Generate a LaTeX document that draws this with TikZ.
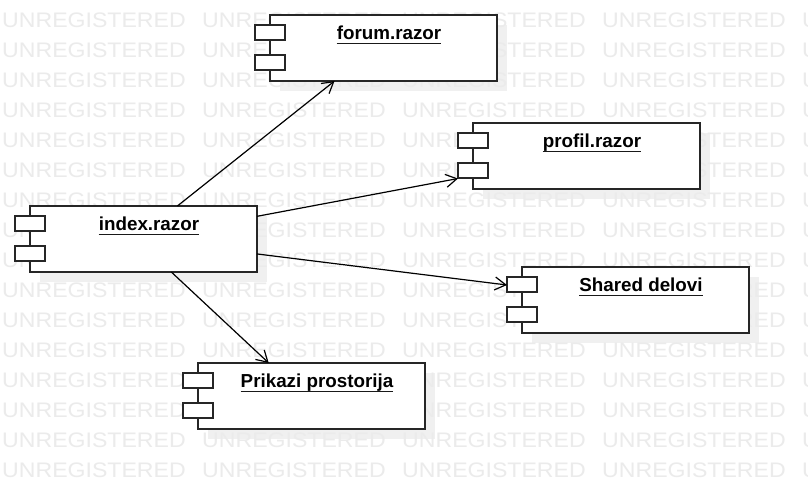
\documentclass[tikz,border=0pt]{standalone}
\usepackage{fontspec}
\setmainfont{Liberation Sans}
\usetikzlibrary{arrows.meta}

\begin{document}
\begin{tikzpicture}[x=1pt,y=1pt,
	comp/.style={inner sep=0,outer sep=0,minimum width=242pt,minimum height=66pt},
	boxline/.style={draw=black!85,line width=1.3pt,fill=white},
	shade/.style={fill=black!6},
	wmark/.style={text=black!8,inner sep=0,anchor=base west,xscale=1.1,font=\fontsize{21}{25}\selectfont},
	lbl/.style={inner sep=0,anchor=base,font=\bfseries\fontsize{18.8}{22}\selectfont},
	uline/.style={draw=black!90,line width=1.4pt},
	dep/.style={draw=black,line width=1.2pt,-{Straight Barb[length=11pt,width=13pt,line width=1.2pt]}}]
	\useasboundingbox (0,0) rectangle (808,489);
	\fill[white] (0,0) rectangle (808,489);
	\node[comp] (forum) at (376,441) {};
	\node[comp] (profil) at (579,333) {};
	\node[comp] (index) at (136,250) {};
	\node[comp] (shared) at (628,189) {};
	\node[comp] (prikazi) at (304,93) {};
	\foreach \n in {forum,profil,index,shared,prikazi}
		\fill[shade] ([xshift=25pt,yshift=-10pt]\n.north west) rectangle ([xshift=10pt,yshift=-10pt]\n.south east);
	\foreach \r in {0,...,15}
		\foreach \c in {0,...,4}
			\node[wmark] (wm-\r-\c) at (2+200*\c,461-30*\r) {UNREGISTERED};
	\foreach \n/\t in {forum/forum.razor,profil/profil.razor,index/index.razor,shared/Shared delovi,prikazi/Prikazi prostorija} {
		\draw[boxline] ([xshift=15pt]\n.north west) rectangle (\n.south east);
		\draw[boxline] ([yshift=-10pt]\n.north west) rectangle ([xshift=30pt,yshift=-25pt]\n.north west);
		\draw[boxline] ([yshift=-40pt]\n.north west) rectangle ([xshift=30pt,yshift=-55pt]\n.north west);
		\node[lbl] (\n-txt) at ([xshift=13pt,yshift=-25pt]\n.north) {\t};
		\draw[uline] ([yshift=-3.5pt]\n-txt.base west) -- ([yshift=-3.5pt]\n-txt.base east);
	}
	\draw[dep] (index) -- (forum);
	\draw[dep] (index) -- (profil);
	\draw[dep] (index) -- (shared);
	\draw[dep] (index) -- (prikazi);
\end{tikzpicture}
\end{document}
